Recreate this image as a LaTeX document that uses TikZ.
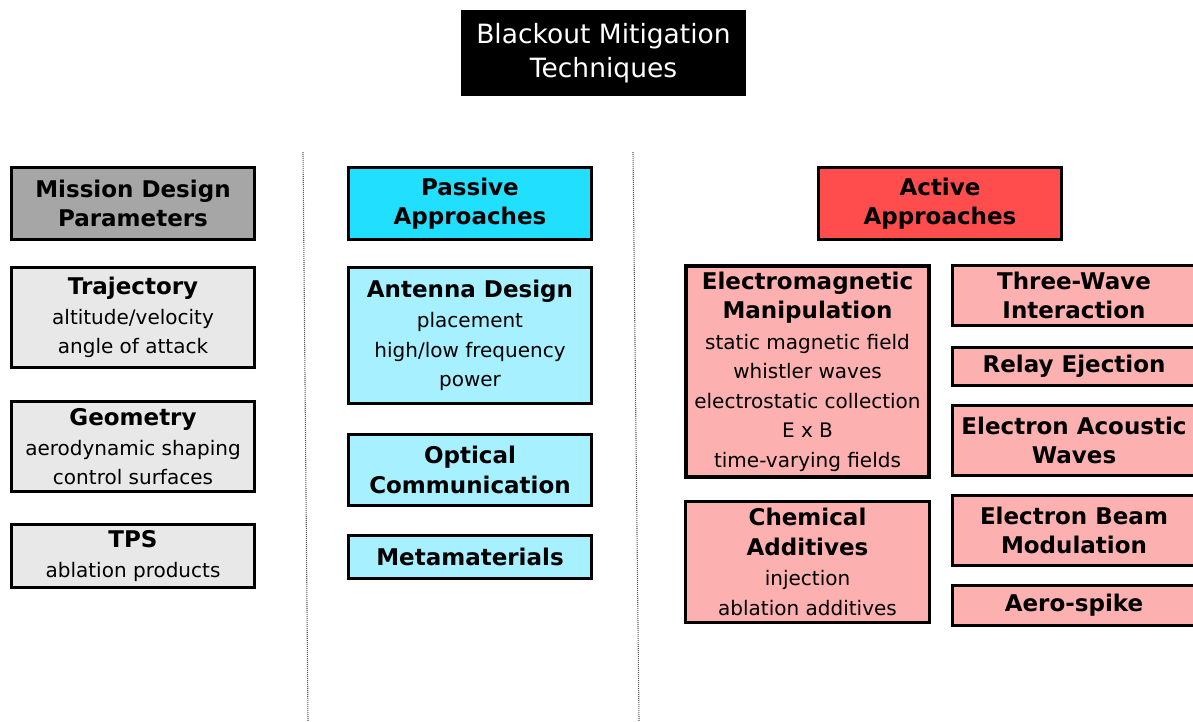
\documentclass[tikz,border=0pt]{standalone}
\usepackage{fontspec}
\setmainfont{DejaVu Sans}
\definecolor{mdgray}{HTML}{A6A6A6}
\definecolor{ltgray}{HTML}{E8E8E8}
\definecolor{pcyan}{HTML}{20DFFF}
\definecolor{ltcyan}{HTML}{A6F0FF}
\definecolor{ared}{HTML}{FF4D4D}
\definecolor{pink}{HTML}{FDB0B0}
\newcommand{\hd}[1]{{\fontsize{23}{29.5}\selectfont\bfseries #1}}
\tikzset{
  box/.style={draw=black, line width=3pt, align=center, inner sep=0pt,
    font=\fontsize{20}{29.5}\selectfont},
  divider/.style={draw=black!65, line width=1.1pt, dash pattern=on 1pt off 1pt},
}
\begin{document}
\begin{tikzpicture}[x=1pt,y=-1pt]
\useasboundingbox (0,0) rectangle (1193,721);
\clip (0,0) rectangle (1193,721);
\fill[white] (0,0) rectangle (1193,721);
% title
\node[fill=black, text=white, align=center, minimum width=285, minimum height=86,
  inner sep=0pt, font=\fontsize{26.5}{34}\selectfont] (title) at (603.5,53)
  {Blackout Mitigation\\Techniques};
% dividers
\coordinate (d1a) at (303,152); \coordinate (d1b) at (308,721);
\coordinate (d2a) at (633,152); \coordinate (d2b) at (639,721);
\draw[divider] (d1a) -- (d1b);
\draw[divider] (d2a) -- (d2b);
% column 1
\node[box, fill=mdgray, minimum width=243, minimum height=72] (mdp) at (133,203.5)
  {\hd{Mission Design}\\\hd{Parameters}};
\node[box, fill=ltgray, minimum width=243, minimum height=100] (traj) at (133,317.5)
  {\hd{Trajectory}\\[0.5pt] altitude/velocity\\ angle of attack};
\node[box, fill=ltgray, minimum width=243, minimum height=90] (geom) at (133,446.5)
  {\hd{Geometry}\\[0.5pt] aerodynamic shaping\\ control surfaces};
\node[box, fill=ltgray, minimum width=243, minimum height=63] (tps) at (133,556)
  {\hd{TPS}\\[0.5pt] ablation products};
% column 2
\node[box, fill=pcyan, minimum width=243, minimum height=72] (pas) at (470,203.5)
  {\hd{Passive}\\\hd{Approaches}};
\node[box, fill=ltcyan, minimum width=243, minimum height=136] (ant) at (470,335.5)
  {\hd{Antenna Design}\\[0.5pt] placement\\ high/low frequency\\ power};
\node[box, fill=ltcyan, minimum width=243, minimum height=71] (opt) at (470,470)
  {\hd{Optical}\\\hd{Communication}};
\node[box, fill=ltcyan, minimum width=243, minimum height=43] (meta) at (470,557)
  {\hd{Metamaterials}};
% column 3
\node[box, fill=ared, minimum width=243, minimum height=72] (act) at (940,203.5)
  {\hd{Active}\\\hd{Approaches}};
\node[box, fill=pink, line width=4pt, minimum width=243, minimum height=211] (em) at (807.5,371.5)
  {\hd{Electromagnetic}\\\hd{Manipulation}\\[1pt] static magnetic field\\ whistler waves\\
   electrostatic collection\\ E x B\\ time-varying fields};
\node[box, fill=pink, minimum width=244, minimum height=121] (chem) at (807.5,562)
  {\hd{Chemical}\\\hd{Additives}\\[1pt] injection\\ ablation additives};
\node[box, fill=pink, minimum width=243, minimum height=60] (tw) at (1074,295.5)
  {\hd{Three-Wave}\\\hd{Interaction}};
\node[box, fill=pink, minimum width=243, minimum height=38] (relay) at (1074,366.5)
  {\hd{Relay Ejection}};
\node[box, fill=pink, minimum width=243, minimum height=70] (eaw) at (1074,440.5)
  {\hd{Electron Acoustic}\\\hd{Waves}};
\node[box, fill=pink, minimum width=243, minimum height=70] (ebm) at (1074,530.5)
  {\hd{Electron Beam}\\\hd{Modulation}};
\node[box, fill=pink, minimum width=243, minimum height=40] (aero) at (1074,605.5)
  {\hd{Aero-spike}};
\end{tikzpicture}
\end{document}
